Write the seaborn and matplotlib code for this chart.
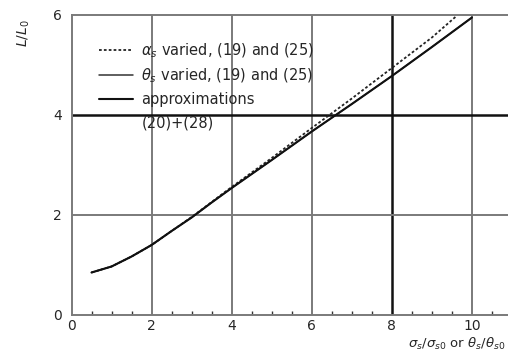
import matplotlib
matplotlib.use("Agg")
import matplotlib.pyplot as plt
import seaborn as sns
import numpy as np
import pandas as pd
from matplotlib.ticker import MultipleLocator

# Data
x_theta = [0.5, 1.0, 1.5, 2.0, 2.5, 3.0, 3.5, 4.0, 5.0, 6.0, 7.0, 8.0, 9.0, 10.0]
L_theta = [0.85, 0.97, 1.17, 1.40, 1.68, 1.95, 2.25, 2.54, 3.10, 3.67, 4.22, 4.78, 5.36, 5.95]
x_alpha = [0.5, 1.0, 1.5, 2.0, 2.5, 3.0, 3.5, 4.0, 5.0, 6.0, 7.0, 8.0, 9.0, 9.6]
L_alpha = [0.85, 0.97, 1.17, 1.40, 1.68, 1.96, 2.26, 2.56, 3.14, 3.74, 4.33, 4.94, 5.55, 5.97]
x_approx = x_theta
L_approx = L_theta

labels = [r"$\alpha_s$ varied, (19) and (25)",
          r"$\theta_s$ varied, (19) and (25)",
          "approximations"]
label_cont = "(20)+(28)"
xticks = [0, 2, 4, 6, 8, 10]
yticks = [0, 2, 4, 6]

sns.set_theme(style="white")
plt.rcParams['font.family'] = ['DejaVu Sans']

fig = plt.figure(figsize=(5.08, 3.52), dpi=100)
ax = fig.add_axes([71.5/508, 37/352, (508-71.5)/508, 300/352])

grid_c = "#7a7a7a"
for xv in [2, 4, 6, 10]:
    ax.axvline(xv, color=grid_c, lw=1.4, zorder=0)
ax.axvline(8, color="#111111", lw=1.8, zorder=0)
ax.axhline(2, color=grid_c, lw=1.4, zorder=0)
ax.axhline(4, color="#111111", lw=1.8, zorder=0)

df_a = pd.DataFrame({"x": x_alpha, "L": L_alpha})
df_t = pd.DataFrame({"x": x_theta, "L": L_theta})
df_p = pd.DataFrame({"x": x_approx, "L": L_approx})
sns.lineplot(data=df_a, x="x", y="L", ax=ax, color="#222222", lw=1.3,
             linestyle=(0, (1.5, 1.2)), label=labels[0])
sns.lineplot(data=df_t, x="x", y="L", ax=ax, color="#333333", lw=1.1,
             label=labels[1])
sns.lineplot(data=df_p, x="x", y="L", ax=ax, color="#111111", lw=1.5,
             label=labels[2])

ax.set_xlim(0, 10.9)
ax.set_ylim(0, 6)
ax.set_xticks(xticks)
ax.set_yticks(yticks)
ax.xaxis.set_minor_locator(MultipleLocator(0.5))
ax.tick_params(axis="x", which="major", direction="in", length=0, pad=3, labelsize=10)
ax.tick_params(axis="x", which="minor", direction="in", length=3, width=1, color="#333333", bottom=True)
ax.tick_params(axis="y", which="major", direction="in", length=0, pad=7, labelsize=10)
for s in ["left", "bottom", "top"]:
    ax.spines[s].set_color(grid_c)
    ax.spines[s].set_linewidth(1.4)
ax.spines["right"].set_visible(False)

fig.text(0.995, 0.022, r"$\sigma_s/\sigma_{s0}$ or $\theta_s/\theta_{s0}$",
         fontsize=9.5, ha="right", va="center")
ax.set_xlabel("")
ax.set_ylabel(r"$L/L_0$", fontsize=10)
ax.yaxis.set_label_coords(-0.09, 0.94)

leg = ax.legend(loc="upper left", bbox_to_anchor=(0.05, 0.93), frameon=False,
                fontsize=10.5, handlelength=2.3, handletextpad=0.6,
                labelspacing=0.45, borderaxespad=0)

# continuation line of the third legend label, aligned with legend text
fig.canvas.draw()
txt = leg.get_texts()[2]
bb = txt.get_window_extent()
fig.text(bb.x0 / fig.dpi / fig.get_figwidth(),
         (bb.y0 - 24) / fig.dpi / fig.get_figheight(),
         label_cont, fontsize=10.5, ha="left", va="bottom", color=txt.get_color())

fig.savefig("out.png", dpi=100)
